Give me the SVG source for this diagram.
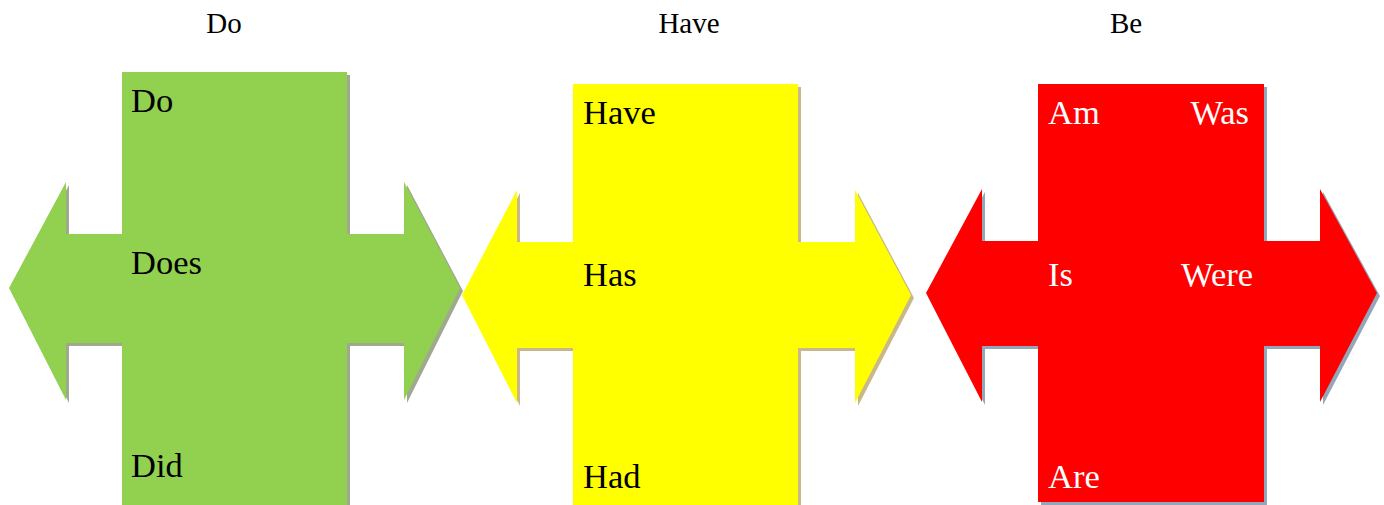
<svg xmlns="http://www.w3.org/2000/svg" width="1384" height="505" viewBox="0 0 1384 505">
<style>
.title{font-family:"Liberation Serif","Times New Roman",serif;font-size:29px;fill:#000;text-anchor:middle}
.lbl{font-family:"Liberation Serif","Times New Roman",serif;font-size:34.5px}
.dark{fill:#000}
.light{fill:#fff}
</style>
<defs>
<path id="crossG" d="M122,72 H347 V234 H404 V182 L460,288 L404,400 V343 H347 V505 H122 V343 H66 V400 L9,288 L66,182 V234 H122 Z"/>
<path id="crossY" d="M573,84 H798 V242 H855 V190 L911,295 L855,403 V348 H798 V505 H573 V348 H517 V403 L462,295 L517,190 V242 H573 Z"/>
<path id="crossR" d="M1038,84 H1264 V241 H1320 V189 L1377,293 L1320,402 V346 H1264 V502 H1038 V346 H982 V402 L926,293 L982,189 V241 H1038 Z"/>
</defs>
<g id="titles">
<text class="title" x="224" y="33">Do</text>
<text class="title" x="689" y="33">Have</text>
<text class="title" x="1126" y="33">Be</text>
</g>
<g id="node-do">
<use href="#crossG" transform="translate(3,3)" fill="#A0A890"/>
<use href="#crossG" fill="#92D050"/>
<text class="lbl dark" x="131" y="112">Do</text>
<text class="lbl dark" x="131" y="274">Does</text>
<text class="lbl dark" x="131" y="477">Did</text>
</g>
<g id="node-have">
<use href="#crossY" transform="translate(3,3)" fill="#C8B88A"/>
<use href="#crossY" fill="#FFFF00"/>
<text class="lbl dark" x="583" y="124">Have</text>
<text class="lbl dark" x="583" y="286">Has</text>
<text class="lbl dark" x="583" y="488">Had</text>
</g>
<g id="node-be">
<use href="#crossR" transform="translate(3,3)" fill="#94A6BA"/>
<use href="#crossR" fill="#FF0000"/>
<text class="lbl light" x="1048" y="124">Am</text>
<text class="lbl light" x="1249" y="124" text-anchor="end">Was</text>
<text class="lbl light" x="1048" y="286">Is</text>
<text class="lbl light" x="1253" y="286" text-anchor="end">Were</text>
<text class="lbl light" x="1048" y="488">Are</text>
</g>
<g id="connectors"></g>
</svg>
